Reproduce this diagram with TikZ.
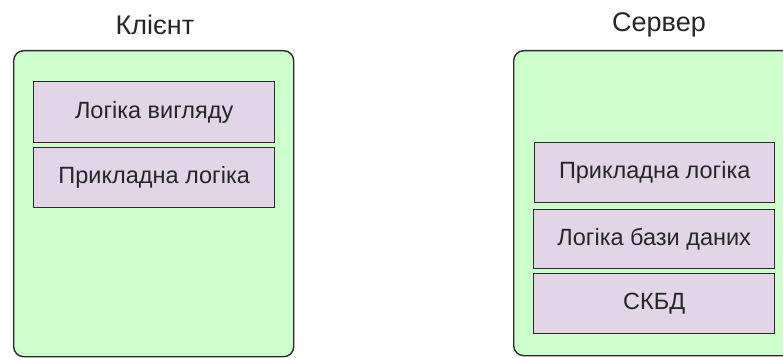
\documentclass[tikz,border=0pt]{standalone}
\usepackage{fontspec}
\setmainfont{Liberation Sans}
\definecolor{contfill}{HTML}{CCFFCC}
\definecolor{boxfill}{HTML}{E1D5E7}
\definecolor{edge}{HTML}{2A2A2A}
\begin{document}
\begin{tikzpicture}[x=1pt,y=-1pt,
  container/.style={draw=edge,fill=contfill,line width=1.4pt,rounded corners=10pt},
  layer/.style={draw=edge,fill=boxfill,line width=1.4pt,font=\fontsize{23.5}{26}\selectfont,text=black!85},
  title/.style={font=\fontsize{27}{30}\selectfont,text=black!85}]
\useasboundingbox (0,0) rectangle (783,358);
\clip (0,0) rectangle (783,358);
% containers
\node[container,minimum width=280pt,minimum height=306pt,anchor=north west,inner sep=0pt] (client) at (13,50) {};
\node[container,minimum width=280pt,minimum height=305pt,anchor=north west,inner sep=0pt] (server) at (513,50) {};
% titles
\node[title] (clientT) at (155,25) {Клієнт};
\node[title] (serverT) at (659,25) {Сервер};
% client layers
\node[layer,minimum width=241pt,minimum height=61pt,anchor=north west,inner sep=0pt] (view) at (33,81) {Логіка вигляду};
\node[layer,minimum width=241pt,minimum height=60pt,anchor=north west,inner sep=0pt] (appC) at (33,147) {Прикладна логіка};
% server layers
\node[layer,minimum width=240pt,minimum height=60pt,anchor=north west,inner sep=0pt] (appS) at (534,142) {Прикладна логіка};
\node[layer,minimum width=241pt,minimum height=59pt,anchor=north west,inner sep=0pt] (db) at (533,209) {Логіка бази даних};
\node[layer,minimum width=241pt,minimum height=60pt,anchor=north west,inner sep=0pt] (dbms) at (533,273) {СКБД};
\end{tikzpicture}
\end{document}
